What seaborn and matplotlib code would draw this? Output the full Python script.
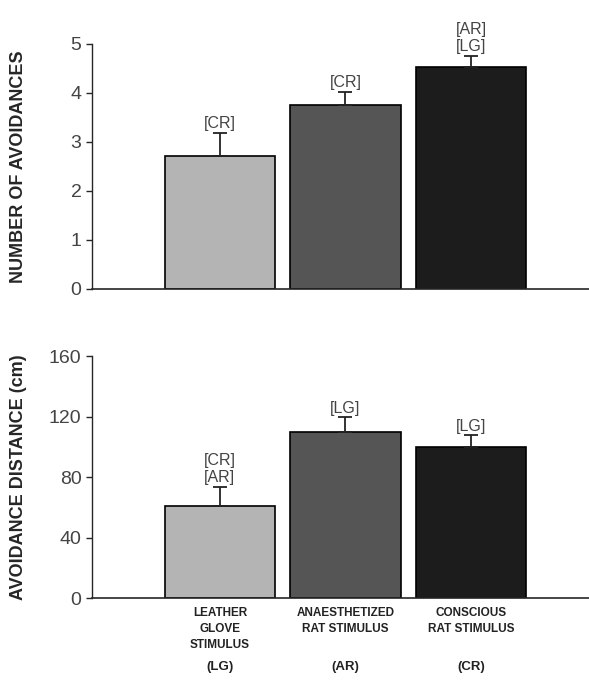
import numpy as np
import seaborn as sns
import matplotlib.pyplot as plt
import pandas as pd

# data
stimuli = ['LEATHER\nGLOVE\nSTIMULUS', 'ANAESTHETIZED\nRAT STIMULUS', 'CONSCIOUS\nRAT STIMULUS']
abbrev = ['(LG)', '(AR)', '(CR)']
avoid_mean = [2.71, 3.75, 4.52]
avoid_sem = [0.48, 0.27, 0.24]
avoid_sig = ['[CR]', '[CR]', '[AR]\n[LG]']
dist_mean = [60.7, 109.5, 99.6]
dist_sem = [13.0, 10.0, 8.0]
dist_sig = ['[CR]\n[AR]', '[LG]', '[LG]']

sns.set_style('ticks')
plt.rcParams['font.family'] = ['Liberation Sans', 'DejaVu Sans']

colors = ['#b4b4b4', '#555555', '#1c1c1c']

fig = plt.figure(figsize=(5.89, 6.86), dpi=100)
ax1 = fig.add_axes([0.156, 0.579, 0.844, 0.357])
ax2 = fig.add_axes([0.156, 0.128, 0.844, 0.353])


def panel(ax, means, sems, sig, ylim, yticks, ylabel, off):
    df = pd.DataFrame({'stim': stimuli, 'val': means})
    sns.barplot(data=df, x='stim', y='val', hue='stim', palette=colors, legend=False,
                width=0.88, edgecolor='black', linewidth=1.2, errorbar=None, ax=ax)
    x = np.arange(len(means))
    ax.errorbar(x, means, yerr=[np.zeros(len(sems)), sems], fmt='none',
                ecolor='#222222', elinewidth=1.3, capsize=5, capthick=1.3)
    for xi, m, s, t in zip(x, means, sems, sig):
        ax.text(xi, m + s + off, t, ha='center', va='bottom', fontsize=11.5,
                color='#444444', linespacing=1.15)
    ax.set_xlim(-1.02, 2.94)
    ax.set_ylim(*ylim)
    ax.set_yticks(yticks)
    ax.tick_params(axis='y', labelsize=14, labelcolor='#444444', length=4, width=1)
    ax.set_ylabel(ylabel, fontsize=13, fontweight='bold')
    ax.yaxis.set_label_coords(-0.13, 0.5)
    ax.set_xlabel('')
    sns.despine(ax=ax)
    ax.spines['left'].set_linewidth(1)
    ax.spines['bottom'].set_linewidth(1.2)


panel(ax1, avoid_mean, avoid_sem, avoid_sig, (0, 5), range(0, 6),
      'NUMBER OF AVOIDANCES', 0.03)
ax1.set_xticks([])

panel(ax2, dist_mean, dist_sem, dist_sig, (0, 160), range(0, 161, 40),
      'AVOIDANCE DISTANCE (cm)', 1.0)
ax2.set_xticks(range(3))
ax2.set_xticklabels(stimuli, fontsize=8.5, fontweight='bold', linespacing=1.45,
                    color='#222222')
ax2.tick_params(axis='x', length=0, pad=6)
for i, a in enumerate(abbrev):
    ax2.text(i, -0.285, a, transform=ax2.get_xaxis_transform(), ha='center',
             va='center', fontsize=9.5, fontweight='bold', color='#222222')

fig.savefig('out.png', dpi=100)
